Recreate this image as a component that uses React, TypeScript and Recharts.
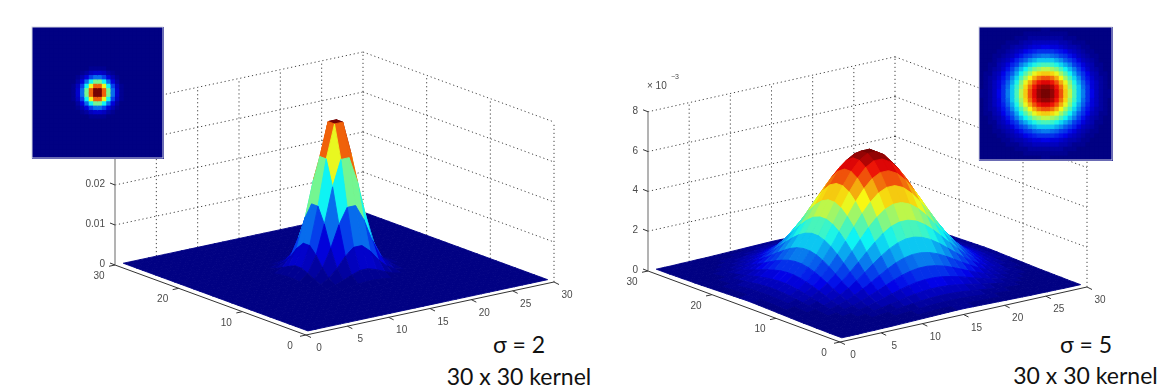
import * as React from "react"
import { ReferenceLine, Scatter, ScatterChart, XAxis, YAxis } from "recharts"

// quarter of each kernel, in units of 1e-3, read outwards from the centre
const SIGMA2_KERNEL = [
    [37.4, 29.1, 17.7, 8.3, 3.1, 0.9, 0.2, 0.03],
    [29.1, 22.7, 13.8, 6.5, 2.4, 0.7, 0.15, 0.03],
    [17.7, 13.8, 8.3, 3.9, 1.5, 0.4, 0.09, 0.02],
    [8.3, 6.5, 3.9, 1.9, 0.7, 0.2, 0.04, 0.01],
    [3.1, 2.4, 1.5, 0.7, 0.25, 0.07, 0.02, 0],
    [0.9, 0.7, 0.4, 0.2, 0.07, 0.02, 0, 0],
    [0.2, 0.15, 0.09, 0.04, 0.02, 0, 0, 0],
    [0.03, 0.03, 0.02, 0.01, 0, 0, 0, 0],
]
const SIGMA5_KERNEL = [
    [6.31, 6.06, 5.59, 4.96, 4.23, 3.46, 2.73, 2.06, 1.5, 1.04, 0.7, 0.45, 0.28, 0.16, 0.1],
    [6.06, 5.82, 5.37, 4.77, 4.06, 3.33, 2.62, 1.98, 1.44, 1.0, 0.67, 0.43, 0.27, 0.16, 0.09],
    [5.59, 5.37, 4.96, 4.4, 3.75, 3.07, 2.42, 1.83, 1.33, 0.92, 0.62, 0.4, 0.25, 0.15, 0.08],
    [4.96, 4.77, 4.4, 3.91, 3.33, 2.72, 2.15, 1.62, 1.18, 0.82, 0.55, 0.35, 0.22, 0.13, 0.07],
    [4.23, 4.06, 3.75, 3.33, 2.83, 2.32, 1.83, 1.38, 1.0, 0.7, 0.47, 0.3, 0.19, 0.11, 0.06],
    [3.46, 3.33, 3.07, 2.72, 2.32, 1.9, 1.5, 1.13, 0.82, 0.57, 0.38, 0.25, 0.15, 0.09, 0.05],
    [2.73, 2.62, 2.42, 2.15, 1.83, 1.5, 1.18, 0.89, 0.65, 0.45, 0.3, 0.19, 0.12, 0.07, 0.04],
    [2.06, 1.98, 1.83, 1.62, 1.38, 1.13, 0.89, 0.67, 0.49, 0.34, 0.23, 0.15, 0.09, 0.05, 0.03],
    [1.5, 1.44, 1.33, 1.18, 1.0, 0.82, 0.65, 0.49, 0.35, 0.25, 0.17, 0.11, 0.07, 0.04, 0.02],
    [1.04, 1.0, 0.92, 0.82, 0.7, 0.57, 0.45, 0.34, 0.25, 0.17, 0.11, 0.07, 0.05, 0.03, 0.02],
    [0.7, 0.67, 0.62, 0.55, 0.47, 0.38, 0.3, 0.23, 0.17, 0.11, 0.08, 0.05, 0.03, 0.02, 0.01],
    [0.45, 0.43, 0.4, 0.35, 0.3, 0.25, 0.19, 0.15, 0.11, 0.07, 0.05, 0.03, 0.02, 0.01, 0.01],
    [0.28, 0.27, 0.25, 0.22, 0.19, 0.15, 0.12, 0.09, 0.07, 0.05, 0.03, 0.02, 0.01, 0.01, 0],
    [0.16, 0.16, 0.15, 0.13, 0.11, 0.09, 0.07, 0.05, 0.04, 0.03, 0.02, 0.01, 0.01, 0, 0],
    [0.1, 0.09, 0.08, 0.07, 0.06, 0.05, 0.04, 0.03, 0.02, 0.02, 0.01, 0.01, 0, 0, 0],
]

const X_TICKS = [0, 5, 10, 15, 20, 25, 30]
const Y_TICKS = [0, 10, 20, 30]
const Z_TICKS_SIGMA2 = [0, 10, 20, 30, 40]
const Z_LABELS_SIGMA2 = ["0", "0.01", "0.02", "0.03", "0.04"]
const Z_TICKS_SIGMA5 = [0, 2, 4, 6, 8]
const Z_LABELS_SIGMA5 = ["0", "2", "4", "6", "8"]

const WIDTH = 1166
const HEIGHT = 392
const GRID_SIZE = 30
const FONT = "'Liberation Sans', Arial, sans-serif"
const NOTE_FONT = "Lato, 'Open Sans', sans-serif"

const PANEL_LEFT = {
    kernel: SIGMA2_KERNEL,
    origin: [306, 335],
    dx: [248, -53],
    dy: [-191, -70],
    zScale: 4,
    zTicks: Z_TICKS_SIGMA2,
    zLabels: Z_LABELS_SIGMA2,
    inset: { x: 32, y: 27, size: 131 },
}
const PANEL_RIGHT = {
    kernel: SIGMA5_KERNEL,
    origin: [840, 342],
    dx: [247, -55],
    dy: [-192, -71],
    zScale: 19.9,
    zTicks: Z_TICKS_SIGMA5,
    zLabels: Z_LABELS_SIGMA5,
    inset: { x: 979, y: 27, size: 133 },
}

type Panel = typeof PANEL_LEFT

const cellValue = (kernel: number[][], i: number, j: number) => {
    const a = Math.abs(i - 15.5) - 0.5
    const b = Math.abs(j - 15.5) - 0.5
    return kernel[a]?.[b] ?? 0
}

// matlab jet(64), pulled a little towards grey like the scanned figure
const jet = (t: number) => {
    const u = (Math.min(63, Math.floor(t * 64)) + 1) / 64
    const ch = (c: number) => 255 * Math.max(0, Math.min(1, 1.5 - Math.abs(4 * u - c)))
    const [r, g, b] = [ch(3), ch(2), ch(1)]
    const lum = 0.3 * r + 0.59 * g + 0.11 * b
    const mix = (c: number) => Math.round((c * 0.92 + lum * 0.08) * 0.98)
    return `rgb(${mix(r)},${mix(g)},${mix(b)})`
}

const project = (p: Panel, x: number, y: number, z = 0) => [
    p.origin[0] + (p.dx[0] * x) / GRID_SIZE + (p.dy[0] * y) / GRID_SIZE,
    p.origin[1] + (p.dx[1] * x) / GRID_SIZE + (p.dy[1] * y) / GRID_SIZE - z * p.zScale,
]

// back to front, each quad coloured from its lowest corner like surf with flat shading
const buildFacets = (p: Panel) => {
    const peak = p.kernel[0][0]
    const out = []
    for (let i = GRID_SIZE - 1; i >= 1; i--) {
        for (let j = GRID_SIZE - 1; j >= 1; j--) {
            const [sx, sy] = project(p, i, j, cellValue(p.kernel, i, j))
            const corners = [
                [i + 1, j],
                [i + 1, j + 1],
                [i, j + 1],
            ].map(([a, b]) => {
                const q = project(p, a, b, cellValue(p.kernel, a, b))
                return [q[0] - sx, q[1] - sy]
            })
            out.push({ sx, sy, corners, fill: jet(cellValue(p.kernel, i, j) / peak) })
        }
    }
    return out
}

const buildCells = (p: Panel) => {
    const peak = p.kernel[0][0]
    const step = p.inset.size / GRID_SIZE
    const out = []
    for (let i = 1; i <= GRID_SIZE; i++) {
        for (let j = 1; j <= GRID_SIZE; j++) {
            out.push({
                sx: p.inset.x + (i - 1) * step,
                sy: p.inset.y + (j - 1) * step,
                step,
                fill: jet(cellValue(p.kernel, i, j) / peak),
            })
        }
    }
    return out
}

const buildTickLabels = (p: Panel) => {
    const out: { sx: number; sy: number; text: string; anchor?: string }[] = []
    X_TICKS.forEach((t) => {
        const [x, y] = project(p, t, 0)
        out.push({ sx: x + 13, sy: y + 16, text: String(t) })
    })
    Y_TICKS.forEach((t) => {
        const [x, y] = project(p, 0, t)
        out.push({ sx: x - 16, sy: y + 14, text: String(t) })
    })
    p.zTicks.forEach((t, k) => {
        const [x, y] = project(p, 0, GRID_SIZE, t)
        out.push({ sx: x - 10, sy: y + 2, text: p.zLabels[k], anchor: "end" })
    })
    return out
}

const FacetShape = (props: any) => {
    const { cx, cy, payload } = props
    const pts = [[0, 0], ...payload.corners].map(([a, b]: number[]) => `${cx + a},${cy + b}`).join(" ")
    return <polygon points={pts} fill={payload.fill} stroke={payload.fill} strokeWidth={0.9} strokeLinejoin="round" />
}

const CellShape = (props: any) => {
    const { cx, cy, payload } = props
    return <rect x={cx} y={cy} width={payload.step + 1} height={payload.step + 1} fill={payload.fill} />
}

const FrameShape = (props: any) => {
    const { cx, cy, payload } = props
    return <rect x={cx} y={cy} width={payload.size} height={payload.size} fill="none" stroke="#d4d6e4" strokeWidth={1} />
}

const TextShape = (props: any) => {
    const { cx, cy, payload } = props
    return (
        <text
            x={cx}
            y={cy}
            textAnchor={payload.anchor ?? "middle"}
            fontFamily={payload.font ?? FONT}
            fontSize={payload.fontSize ?? 10}
            fill={payload.color ?? "#4a4a4a"}
        >
            {payload.text}
        </text>
    )
}

const gridLine = { stroke: "#444", strokeWidth: 1, strokeDasharray: "1.2 2.8" }

function segment(a: number[], b: number[], style: object, key: string) {
    return (
        <ReferenceLine
            key={key}
            segment={[
                { x: a[0], y: a[1] },
                { x: b[0], y: b[1] },
            ]}
            {...style}
        />
    )
}

function frameLines(p: Panel, tag: string) {
    const zTop = p.zTicks[p.zTicks.length - 1]
    const lines = []
    p.zTicks.slice(1).forEach((t) => {
        lines.push(segment(project(p, 0, 30, t), project(p, 30, 30, t), gridLine, `${tag}-zl-${t}`))
        lines.push(segment(project(p, 30, 30, t), project(p, 30, 0, t), gridLine, `${tag}-zr-${t}`))
    })
    X_TICKS.slice(1).forEach((t) => {
        lines.push(segment(project(p, t, 30), project(p, t, 30, zTop), gridLine, `${tag}-vx-${t}`))
    })
    Y_TICKS.slice(0, -1).forEach((t) => {
        lines.push(segment(project(p, 30, t), project(p, 30, t, zTop), gridLine, `${tag}-vy-${t}`))
    })
    const axis = { stroke: "#333", strokeWidth: 1 }
    lines.push(segment(project(p, 0, 0), project(p, 30, 0), axis, `${tag}-ax`))
    lines.push(segment(project(p, 0, 0), project(p, 0, 30), axis, `${tag}-ay`))
    lines.push(
        segment(project(p, 0, 30), project(p, 0, 30, zTop), { stroke: "#808080", strokeWidth: 1.2 }, `${tag}-az`),
    )
    X_TICKS.forEach((t) => {
        const a = project(p, t, 0)
        lines.push(segment(a, [a[0] + 5, a[1] + 2.5], axis, `${tag}-tx-${t}`))
    })
    Y_TICKS.forEach((t) => {
        const a = project(p, 0, t)
        lines.push(segment(a, [a[0] - 6, a[1] + 1.3], axis, `${tag}-ty-${t}`))
    })
    p.zTicks.forEach((t) => {
        const a = project(p, 0, 30, t)
        lines.push(segment(a, [a[0] - 5, a[1] - 2], axis, `${tag}-tz-${t}`))
    })
    return lines
}

const POWER_LABELS = [
    { sx: 647, sy: 89, text: "× 10", anchor: "start" },
    { sx: 671, sy: 79, text: "−3", anchor: "start", fontSize: 7 },
]
const NOTES = [
    { sx: 519, sy: 353, text: "σ = 2", font: NOTE_FONT, fontSize: 23, color: "#111" },
    { sx: 519, sy: 385, text: "30 x 30 kernel", font: NOTE_FONT, fontSize: 23, color: "#111" },
    { sx: 1086, sy: 353, text: "σ = 5", font: NOTE_FONT, fontSize: 23, color: "#111" },
    { sx: 1085.5, sy: 384, text: "30 x 30 kernel", font: NOTE_FONT, fontSize: 23, color: "#111" },
]

const chartMargin = { top: 0, right: 0, bottom: 0, left: 0 }
const layer: React.CSSProperties = { position: "absolute", left: 0, top: 0, width: WIDTH, height: HEIGHT }

export default function App() {
    return (
        <div style={{ ...layer, background: "#fff" }}>
            {/* the figures are soft in the reference, the captions are not */}
            <div style={{ ...layer, filter: "blur(0.55px)" }}>
                <ScatterChart width={WIDTH} height={HEIGHT} margin={chartMargin}>
                    <XAxis type="number" dataKey="sx" domain={[0, WIDTH]} hide />
                    <YAxis type="number" dataKey="sy" domain={[0, HEIGHT]} reversed hide />
                    {frameLines(PANEL_LEFT, "l")}
                    {frameLines(PANEL_RIGHT, "r")}
                    <Scatter data={buildFacets(PANEL_LEFT)} shape={FacetShape} isAnimationActive={false} />
                    <Scatter data={buildFacets(PANEL_RIGHT)} shape={FacetShape} isAnimationActive={false} />
                    <Scatter data={buildTickLabels(PANEL_LEFT)} shape={TextShape} isAnimationActive={false} />
                    <Scatter data={buildTickLabels(PANEL_RIGHT)} shape={TextShape} isAnimationActive={false} />
                    <Scatter data={POWER_LABELS} shape={TextShape} isAnimationActive={false} />
                    <Scatter data={buildCells(PANEL_LEFT)} shape={CellShape} isAnimationActive={false} />
                    <Scatter data={buildCells(PANEL_RIGHT)} shape={CellShape} isAnimationActive={false} />
                    <Scatter
                        data={[
                            { sx: PANEL_LEFT.inset.x, sy: PANEL_LEFT.inset.y, size: PANEL_LEFT.inset.size },
                            { sx: PANEL_RIGHT.inset.x, sy: PANEL_RIGHT.inset.y, size: PANEL_RIGHT.inset.size },
                        ]}
                        shape={FrameShape}
                        isAnimationActive={false}
                    />
                </ScatterChart>
            </div>
            <div style={layer}>
                <ScatterChart width={WIDTH} height={HEIGHT} margin={chartMargin}>
                    <XAxis type="number" dataKey="sx" domain={[0, WIDTH]} hide />
                    <YAxis type="number" dataKey="sy" domain={[0, HEIGHT]} reversed hide />
                    <Scatter data={NOTES} shape={TextShape} isAnimationActive={false} />
                </ScatterChart>
            </div>
        </div>
    )
}
